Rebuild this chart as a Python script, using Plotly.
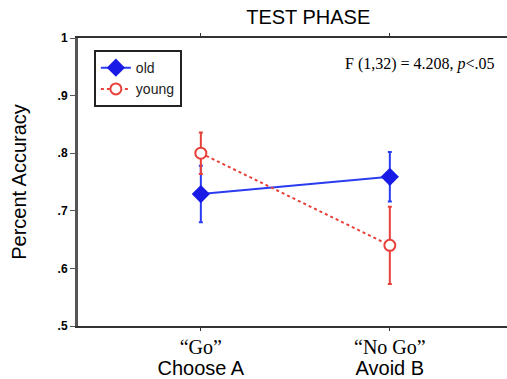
import plotly.graph_objects as go

categories = ["Go", "No Go"]
cat_pos = [1, 2]
tick_labels = ['<span style="font-family:Liberation Serif;font-size:20px">“Go”</span><br><span style="font-size:20px">Choose A</span>',
               '<span style="font-family:Liberation Serif;font-size:20px">“No Go”</span><br><span style="font-size:20px">Avoid B</span>']
old_mean = [0.729, 0.759]
old_err = [0.049, 0.043]
young_mean = [0.800, 0.640]
young_err = [0.036, 0.067]
y_ticks = [0.5, 0.6, 0.7, 0.8, 0.9, 1.0]
y_tick_labels = [".5", ".6", ".7", ".8", ".9", "1"]

fig = go.Figure()
fig.add_trace(go.Scatter(
    x=cat_pos, y=old_mean, name="old", mode="lines+markers",
    line=dict(color="#2a3cf0", width=2),
    marker=dict(symbol="diamond", size=14, color="#1a1ae6"),
    error_y=dict(type="data", array=old_err, color="#2a3cf0", thickness=2, width=2),
))
fig.add_trace(go.Scatter(
    x=cat_pos, y=young_mean, name="young", mode="lines+markers",
    line=dict(color="#e8413a", width=2, dash="dot"),
    marker=dict(symbol="circle", size=11, color="white", line=dict(color="#e8413a", width=2)),
    error_y=dict(type="data", array=young_err, color="#e8413a", thickness=2, width=2),
))

fig.update_layout(
    width=507, height=379,
    margin=dict(l=78, r=0, t=38, b=53),
    paper_bgcolor="white", plot_bgcolor="white",
    font=dict(family="Liberation Sans, Arial", color="black"),
    title=dict(text="TEST PHASE", x=0.608, xanchor="center", y=0.955, yanchor="middle",
               font=dict(size=20, family="Liberation Sans, Arial")),
    showlegend=True,
    legend=dict(x=0.037, y=0.958, xanchor="left", yanchor="top",
                bordercolor="#222", borderwidth=2, bgcolor="white",
                font=dict(size=14, family="Liberation Sans, Arial", color="#222"),
                itemwidth=30, tracegroupgap=0),
    xaxis=dict(range=[0.35, 2.62], tickvals=cat_pos, ticktext=tick_labels,
               showline=True, linecolor="#333", linewidth=2, mirror="ticks",
               ticks="outside", ticklen=3, tickcolor="#333", showgrid=False,
               ticklabelstandoff=4,
               zeroline=False, tickfont=dict(size=16, family="Liberation Sans, Arial")),
    yaxis=dict(range=[0.5, 1.0], tickvals=y_ticks, ticktext=y_tick_labels,
               showline=True, linecolor="#555", linewidth=3,
               ticks="outside", ticklen=5, tickcolor="#555", showgrid=False,
               zeroline=False, tickfont=dict(size=12, family="Liberation Sans", weight="bold"),
               title=dict(text="Percent Accuracy", font=dict(size=20), standoff=26)),
)

fig.add_annotation(
    text="F (1,32) = 4.208, <i>p</i>&lt;.05", xref="paper", yref="paper",
    x=0.977, y=0.91, xanchor="right", yanchor="middle", showarrow=False,
    font=dict(size=16, family="Liberation Serif, Times New Roman", color="black"),
)

fig.write_html("out.html", config={"displayModeBar": False},
               post_script="document.body.style.margin='0';")
